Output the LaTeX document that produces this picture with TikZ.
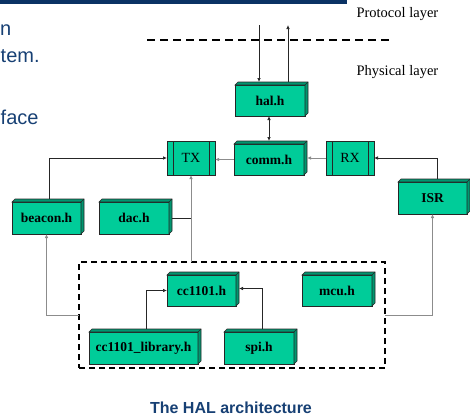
\documentclass[tikz,border=0pt]{standalone}
\usepackage{fontspec}
\setmainfont{Liberation Serif}
\setsansfont{Liberation Sans}
\usetikzlibrary{arrows.meta,calc}
\definecolor{boxfill}{RGB}{0,204,153}
\definecolor{boxside}{RGB}{0,150,112}
\definecolor{slideblue}{RGB}{23,64,116}
\definecolor{barblue}{RGB}{10,50,100}
\begin{document}
\begin{tikzpicture}[x=1pt,y=-1pt,
  box/.style={draw=black!85, line width=0.8pt, fill=boxfill, inner sep=0pt, outer sep=0pt,
    font=\fontsize{13.5}{15}\selectfont\bfseries},
  flatbox/.style={draw=black!85, line width=0.8pt, fill=boxfill, inner sep=0pt, outer sep=0pt,
    minimum width=48pt, minimum height=34pt, font=\fontsize{14}{16}\selectfont},
  side/.style={fill=boxside, draw=black!85, line width=0.6pt},
  arr/.style={line width=0.7pt, draw=black!85, -{Latex[length=4pt,width=3.5pt]}},
  garr/.style={line width=0.9pt, draw=black!45, -{Latex[length=4pt,width=3.5pt]}},
  conn/.style={line width=0.7pt, draw=black!85},
  layer/.style={anchor=west, font=\fontsize{14.5}{16}\selectfont},
  slidetext/.style={anchor=base west, text=slideblue, font=\sffamily\fontsize{20}{24}\selectfont}
]
\useasboundingbox (0,0) rectangle (470,418);
\fill[barblue] (0,0) rectangle (347,3.5);

\node[slidetext, inner sep=0pt] (t1) at (0,35) {n};
\node[slidetext, inner sep=0pt] (t2) at (0.5,62) {tem.};
\node[slidetext, inner sep=0pt] (t3) at (0.5,124) {face};

\node[layer] (proto) at (353,14) {Protocol layer};
\node[layer] (phys) at (353,72) {Physical layer};
\coordinate (dl) at (147,40);
\coordinate (dr) at (390,40);
\draw[line width=1.3pt, dash pattern=on 8pt off 5pt] (dl) -- (dr);

% boxes
\node[box, minimum width=70pt, minimum height=31pt] (hal) at (270,100.5) {hal.h};
\node[box, minimum width=70pt, minimum height=31pt] (comm) at (269,159.5) {comm.h};
\node[box, minimum width=69pt, minimum height=32pt] (isr) at (432.5,198) {ISR};
\node[box, minimum width=69pt, minimum height=32pt] (beacon) at (46.5,218) {beacon.h};
\node[box, minimum width=70pt, minimum height=32pt] (dac) at (134,218) {dac.h};
\node[box, minimum width=69pt, minimum height=31pt] (cc) at (201.5,290.5) {cc1101.h};
\node[box, minimum width=70pt, minimum height=31pt] (mcu) at (337,290.5) {mcu.h};
\node[box, minimum width=109pt, minimum height=32pt] (lib) at (143.5,348) {cc1101\_library.h};
\node[box, minimum width=70pt, minimum height=32pt] (spi) at (259,348) {spi.h};

\foreach \n in {hal,comm,isr,beacon,dac,cc,mcu,lib,spi}{
  \filldraw[side] (\n.north west) -- ++(3,-3) -- ([shift={(3,-3)}]\n.north east)
    -- ([shift={(3,-3)}]\n.south east) -- (\n.south east) -- (\n.north east) -- cycle;
  \draw[line width=0.6pt, draw=black!85] (\n.north east) -- ++(3,-3);
}

\node[flatbox] (tx) at (191,158) {TX};
\node[flatbox] (rx) at (350,158) {RX};
\foreach \n in {tx,rx}{
  \draw[line width=0.8pt, draw=black!85] ([xshift=6pt]\n.north west) -- ([xshift=6pt]\n.south west);
  \draw[line width=0.8pt, draw=black!85] ([xshift=-6pt]\n.north east) -- ([xshift=-6pt]\n.south east);
}

\node[draw, line width=1.4pt, dash pattern=on 6pt off 4pt, minimum width=306pt, minimum height=106pt,
  inner sep=0pt, outer sep=0pt] (grp) at (232,315) {};

% connectors
\coordinate (pin) at (259,25);
\coordinate (pout) at (288,25);
\coordinate (pcomm) at (269,0);
\draw[arr] (pin) -- ($(pin |- hal.north)+(0,-3)$);
\draw[arr] ($(pout |- hal.north)+(0,-3)$) -- (pout);
\draw[arr, {Latex[length=4pt,width=3.5pt]}-{Latex[length=4pt,width=3.5pt]}] (hal.south -| pcomm) -- ($(comm.north -| pcomm)+(0,-3)$);
\draw[garr] (comm.west) -- (comm.west -| tx.east);
\draw[garr] (rx.west) -- ($(rx.west -| comm.east)+(3,0)$);
\draw[arr] ($(isr.north)+(4.5,-3)$) |- (rx.east);
\draw[arr] ($(beacon.north)+(2.5,-3)$) |- (tx.west);
\draw[conn] ($(dac.east)+(3,0)$) -- (dac.east -| tx.south);
\draw[garr] (tx.south |- grp.north) -- (tx.south);
\draw[garr] (grp.west) -| (beacon.south);
\draw[garr] (grp.east) -| (isr.south);
\draw[arr] ($(lib.north)+(2.5,-3)$) |- (cc.west);
\draw[arr] ($(spi.north)+(3,-3)$) |- ($(cc.east)+(3,-2)$);

\node[anchor=base, text=slideblue, font=\sffamily\bfseries\fontsize{16}{18}\selectfont] (cap) at (231,413) {The HAL architecture};
\end{tikzpicture}
\end{document}
